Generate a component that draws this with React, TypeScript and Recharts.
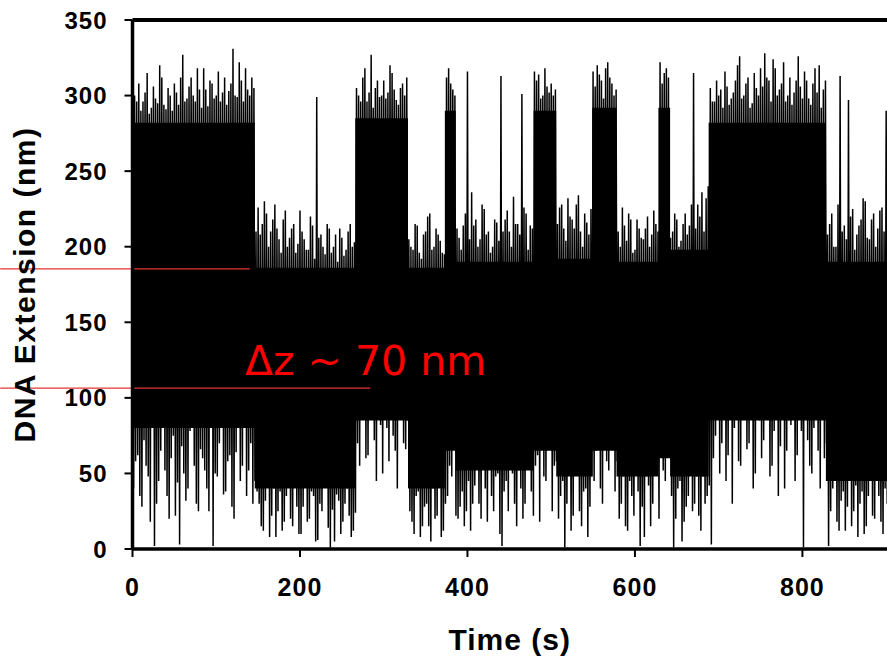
import React from 'react';
import {
  ComposedChart,
  Area,
  Line,
  XAxis,
  YAxis,
  ReferenceLine,
  Label,
} from 'recharts';

// four trace samples every BIN seconds: upper tip, lower tip, upper tip, lower tip
const BIN = 5;

// upper tips of the extension trace (nm), t = 0, 5, 10 ... 900 s
const highs = [
  316, 296, 290, 302, 288, 306, 295, 312, 291, 300,
  308, 294, 327, 298, 312, 296, 304, 318, 293, 308,
  300, 296, 312, 303, 331, 299, 310, 318, 300, 305,
  226, 215, 222, 210, 228, 205, 218, 200, 212, 196,
  224, 205, 198, 214, 299, 208, 195, 212, 200, 190,
  206, 198, 215, 203, 300, 312, 296, 327, 305, 299,
  310, 302, 315, 297, 305, 300, 205, 198, 214, 192,
  210, 222, 200, 208, 196, 312, 308, 300, 206, 214,
  316, 236, 218, 205, 225, 210, 200, 216, 313, 218,
  210, 233, 215, 301, 222, 214, 316, 314, 300, 306,
  308, 304, 226, 212, 232, 218, 228, 210, 222, 208,
  316, 320, 310, 318, 312, 300, 210, 226, 204, 218,
  198, 212, 205, 220, 208, 215, 322, 315, 312, 210,
  218, 204, 222, 214, 315, 228, 236, 232, 305, 296,
  300, 292, 306, 298, 310, 326, 300, 312, 295, 305,
  318, 328, 310, 324, 300, 308, 296, 312, 302, 326,
  298, 310, 294, 318, 320, 304, 208, 222, 200, 313,
  214, 297, 225, 208, 218, 230, 205, 222, 212, 226,
  290,
];

// lower tips (nm), t = 1.25, 6.25 ... s
const lows = [
  40, 62, 28, 55, 18, 2, 45, 85, 35, 60,
  22, 3, 50, 40, 88, 30, 66, 52, 25, 2,
  48, 90, 38, 62, 20, 80, 55, 35, 70, 45,
  30, 12, 45, 22, 8, 38, 18, 50, 15, 28,
  10, 42, 20, 35, 6, 25, 48, 1, 5, 32,
  18, 40, 8, 24, 55, 90, 62, 100, 45, 82,
  108, 58, 75, 40, 95, 66, 25, 10, 38, 15,
  30, 5, 20, 42, 12, 35, 48, 22, 28, 15,
  45, 30, 58, 20, 40, 65, 25, 50, 2, 45,
  62, 30, 52, 20, 70, 38, 55, 18, 48, 66,
  25, 58, 35, 1, 50, 22, 62, 15, 40, 28,
  45, 70, 30, 58, 80, 38, 20, 48, 12, 35,
  55, 2, 8, 42, 30, 50, 62, 45, 70, 1,
  40, 5, 28, 50, 30, 22, 48, 35, 3, 75,
  50, 95, 62, 30, 88, 55, 100, 70, 40, 92,
  60, 110, 48, 78, 35, 96, 65, 82, 45, 105,
  1, 72, 50, 88, 40, 60, 2, 40, 18, 32,
  12, 45, 25, 8, 38, 15, 50, 20, 35, 10,
  30,
];

// second upper tips (nm), t = 2.5, 7.5 ... s
const highsB = [
  300, 308, 296, 315, 292, 298, 320, 294, 305, 290,
  302, 312, 296, 306, 300, 318, 292, 304, 310, 298,
  316, 302, 294, 308, 300, 322, 296, 304, 312, 210,
  208, 230, 200, 218, 212, 196, 224, 206, 215, 202,
  210, 198, 220, 192, 206, 200, 215, 196, 208, 212,
  194, 210, 200, 305, 296, 318, 302, 292, 310, 300,
  298, 320, 304, 294, 308, 312, 200, 215, 196, 208,
  220, 198, 212, 204, 195, 318, 304, 212, 198, 222,
  205, 214, 200, 228, 208, 196, 218, 204, 210, 224,
  200, 215, 208, 226, 198, 212, 310, 298, 318, 302,
  300, 215, 228, 204, 220, 212, 234, 200, 216, 225,
  306, 314, 298, 322, 308, 304, 200, 214, 222, 196,
  218, 206, 212, 200, 224, 210, 308, 318, 206, 222,
  200, 215, 208, 228, 212, 220, 210, 240, 296, 310,
  304, 316, 294, 302, 320, 298, 308, 292, 315, 300,
  306, 312, 296, 318, 304, 322, 300, 294, 310, 306,
  316, 298, 308, 302, 292, 310, 215, 200, 228, 210,
  205, 220, 198, 214, 232, 206, 218, 200, 224, 210,
  210,
];

// second lower tips (nm), t = 3.75, 8.75 ... s
const lowsB = [
  58, 35, 72, 48, 80, 30, 65, 52, 20, 75,
  44, 68, 32, 78, 55, 25, 60, 40, 82, 50,
  70, 36, 58, 28, 64, 45, 88, 52, 30, 38,
  15, 32, 8, 40, 25, 12, 35, 20, 45, 10,
  28, 18, 38, 5, 30, 42, 14, 26, 36, 10,
  30, 22, 12, 70, 88, 60, 102, 72, 95, 50,
  80, 92, 65, 98, 70, 85, 18, 35, 8, 28,
  15, 40, 22, 8, 30, 55, 72, 20, 38, 25,
  12, 42, 30, 55, 18, 35, 48, 10, 38, 25,
  50, 15, 40, 30, 58, 22, 62, 80, 45, 70,
  55, 20, 45, 30, 12, 52, 25, 38, 8, 48,
  65, 40, 78, 52, 70, 58, 30, 15, 45, 22,
  38, 28, 48, 15, 55, 20, 52, 75, 35, 20,
  45, 18, 35, 25, 48, 12, 30, 42, 60, 88,
  70, 45, 102, 80, 58, 95, 66, 110, 50, 85,
  72, 98, 55, 90, 68, 40, 85, 100, 62, 78,
  92, 55, 80, 65, 105, 70, 25, 45, 12, 38,
  28, 15, 42, 30, 10, 35, 22, 48, 18, 40,
  30,
];

// solid part of the trace per state: [from s, to s, top nm, bottom nm]
const states = [
  [0, 146, 282, 80],
  [146, 266, 186, 40],
  [266, 329, 285, 85],
  [329, 373, 186, 40],
  [373, 386, 290, 65],
  [386, 479, 190, 52],
  [479, 506, 290, 65],
  [506, 549, 192, 48],
  [549, 578, 292, 65],
  [578, 628, 190, 48],
  [628, 642, 292, 60],
  [642, 688, 198, 48],
  [688, 828, 282, 85],
  [828, 901, 190, 45],
];

const xTicks = [0, 200, 400, 600, 800];
const yTicks = [0, 50, 100, 150, 200, 250, 300, 350];

// the two levels marked in red
const upperLevel = 185.4;
const lowerLevel = 106.4;

const trace = highs.flatMap((h, i) => [
  { t: i * BIN, v: h },
  { t: i * BIN + BIN / 4, v: lows[i] },
  { t: i * BIN + BIN / 2, v: highsB[i] },
  { t: i * BIN + (3 * BIN) / 4, v: lowsB[i] },
]);

const core = states.flatMap(([from, to, top, bottom]) => [
  { t: from, band: [bottom, top] },
  { t: to, band: [bottom, top] },
]);

const RED = '#ff0000';

const App = () => {
  return (
    <div style={{ position: 'absolute', left: 0, top: 0, width: 887, height: 662, background: '#fff' }}>
      <ComposedChart
        width={887}
        height={662}
        margin={{ top: 20, right: 0, bottom: 0, left: 0 }}
        style={{ fontFamily: '"Liberation Sans", Arial, sans-serif' }}
      >
        <XAxis
          type="number"
          dataKey="t"
          domain={[0, 901]}
          ticks={xTicks}
          allowDataOverflow
          height={113}
          axisLine={{ stroke: '#000', strokeWidth: 3.5 }}
          tickLine={{ stroke: '#000', strokeWidth: 2 }}
          tickSize={8}
          tickMargin={21}
          tick={{ fill: '#000', fontSize: 25, fontWeight: 700, letterSpacing: 1 }}
        >
          <Label
            value="Time (s)"
            position="insideBottom"
            offset={12}
            style={{ fontSize: 30, fontWeight: 700, fill: '#000', letterSpacing: 1 }}
          />
        </XAxis>
        <YAxis
          type="number"
          domain={[0, 350]}
          ticks={yTicks}
          allowDataOverflow
          width={132.5}
          axisLine={{ stroke: '#000', strokeWidth: 3.5 }}
          tickLine={{ stroke: '#000', strokeWidth: 2 }}
          tickSize={8}
          tickMargin={17}
          tick={{ fill: '#000', fontSize: 24, fontWeight: 700, letterSpacing: 1 }}
        >
          <Label
            value="DNA Extension (nm)"
            angle={-90}
            position="insideLeft"
            offset={24}
            style={{ fontSize: 30, fontWeight: 700, fill: '#000', textAnchor: 'middle', letterSpacing: 1.5 }}
          />
        </YAxis>

        <Area
          data={core}
          dataKey="band"
          type="linear"
          stroke="none"
          fill="#000"
          fillOpacity={1}
          isAnimationActive={false}
        />
        <Line
          data={trace}
          dataKey="v"
          type="linear"
          stroke="#000"
          strokeWidth={1.5}
          dot={false}
          activeDot={false}
          isAnimationActive={false}
        />

        <ReferenceLine y={350} stroke="#000" strokeWidth={4} />
        <ReferenceLine
          segment={[{ x: -158, y: upperLevel }, { x: 140, y: upperLevel }]}
          stroke="#e53535"
          strokeWidth={1.2}
          ifOverflow="visible"
        />
        <ReferenceLine
          segment={[{ x: -158, y: lowerLevel }, { x: 284, y: lowerLevel }]}
          stroke="#e53535"
          strokeWidth={1.2}
          ifOverflow="visible"
        />
      </ComposedChart>
      <svg
        width={887}
        height={662}
        style={{ position: 'absolute', left: 0, top: 0, pointerEvents: 'none' }}
      >
        <text x={245} y={375} fill={RED} fontSize={41} fontFamily='"DejaVu Sans", sans-serif'>
          Δz ~ 70 nm
        </text>
      </svg>
    </div>
  );
};

export default App;
